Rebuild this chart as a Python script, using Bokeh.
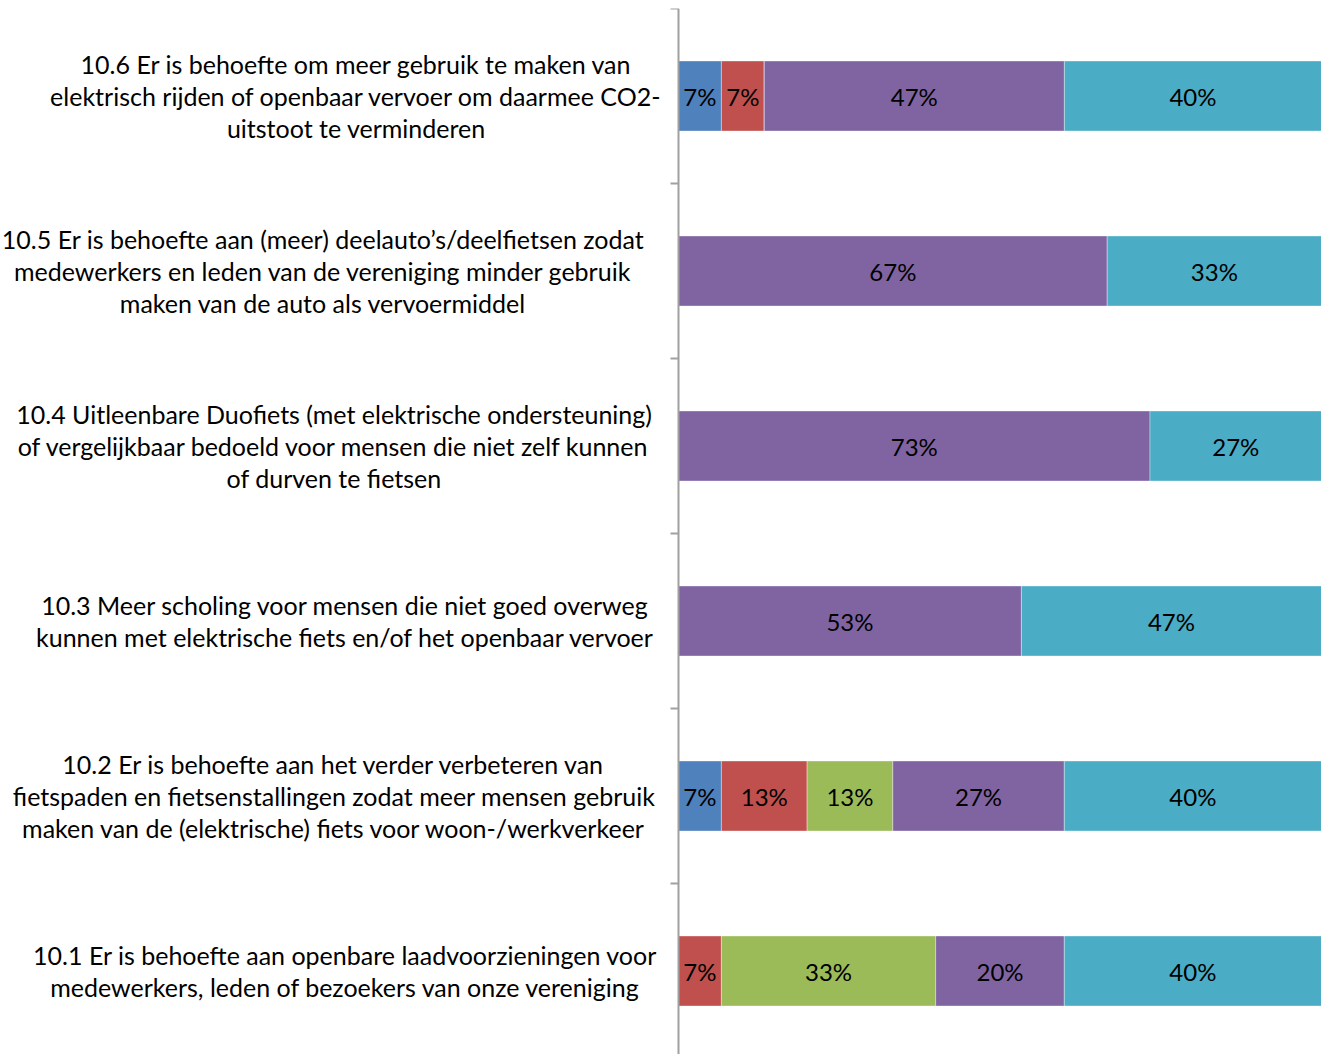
import numpy as np
from bokeh.plotting import figure
from bokeh.models import Range1d, Span
from bokeh.core.properties import value
from bokeh.embed import file_html
from bokeh.resources import INLINE

# Categories, top to bottom as shown
categories = [
    "10.6 Er is behoefte om meer gebruik te maken van\nelektrisch rijden of openbaar vervoer om daarmee CO2-\nuitstoot te verminderen",
    "10.5 Er is behoefte aan (meer) deelauto\u2019s/deelfietsen zodat\nmedewerkers en leden van de vereniging minder gebruik\nmaken van de auto als vervoermiddel",
    "10.4 Uitleenbare Duofiets (met elektrische ondersteuning)\nof vergelijkbaar bedoeld voor mensen die niet zelf kunnen\nof durven te fietsen",
    "10.3 Meer scholing voor mensen die niet goed overweg\nkunnen met elektrische fiets en/of het openbaar vervoer",
    "10.2 Er is behoefte aan het verder verbeteren van\nfietspaden en fietsenstallingen zodat meer mensen gebruik\nmaken van de (elektrische) fiets voor woon-/werkverkeer",
    "10.1 Er is behoefte aan openbare laadvoorzieningen voor\nmedewerkers, leden of bezoekers van onze vereniging",
]

series_names = ["Reeks 1", "Reeks 2", "Reeks 3", "Reeks 4", "Reeks 5"]
series_1 = [6.67, 0.0, 0.0, 0.0, 6.67, 0.0]
series_2 = [6.67, 0.0, 0.0, 0.0, 13.33, 6.67]
series_3 = [0.0, 0.0, 0.0, 0.0, 13.33, 33.33]
series_4 = [46.67, 66.67, 73.33, 53.33, 26.67, 20.0]
series_5 = [40.0, 33.33, 26.67, 46.67, 40.0, 40.0]
colors = ["#4F81BD", "#C0504D", "#9BBB59", "#8064A2", "#4BACC6"]

all_series = [series_1, series_2, series_3, series_4, series_5]
n = len(categories)
ypos = np.array([n - i - 0.5 for i in range(n)])

W, H = 1321, 1054
TOP = 8
unit_px = 6.43            # pixels per percent
cat_px = 175.0            # pixels per category
x_start = -678.0 / unit_px
x_end = x_start + W / unit_px
y_end = float(n)
y_start = y_end - (H - TOP) / cat_px

p = figure(width=W, height=H, output_backend="svg", toolbar_location=None,
           x_range=Range1d(x_start, x_end), y_range=Range1d(y_start, y_end),
           min_border=0, min_border_top=TOP, outline_line_color=None)
p.xaxis.visible = False
p.yaxis.visible = False
p.xgrid.visible = False
p.ygrid.visible = False
p.background_fill_color = "white"
p.border_fill_color = "white"

font = value("Lato")
left = np.zeros(n)
for vals, col in zip(all_series, colors):
    vals = np.array(vals)
    right = left + vals
    p.hbar(y=ypos, left=left, right=right, height=0.4, fill_color=col,
           line_color="white", line_width=0.6, line_alpha=0.6)
    mask = vals > 0
    mids = (left + right) / 2
    labels = [f"{int(round(v))}%" for v in vals[mask]]
    p.text(x=mids[mask], y=ypos[mask], text=labels, text_font=font,
           text_font_size="24px", text_align="center", text_baseline="middle",
           text_color="black")
    left = right

# Category axis line and boundary ticks
p.add_layout(Span(location=0, dimension="height", line_color="#A0A0A0", line_width=2))
bounds = np.arange(1, n + 1)
p.segment(x0=np.zeros(n), y0=bounds, x1=np.full(n, -8 / unit_px), y1=bounds,
          line_color="#A0A0A0", line_width=2)

# Category labels: text block right-anchored near the axis, lines centred in block
char_px = 11.1
right_edge_px = 28.0
label_x = []
for c in categories:
    longest = max(len(line) for line in c.split("\n"))
    label_x.append(-(right_edge_px + longest * char_px / 2) / unit_px)
p.text(x=label_x, y=ypos, text=categories, text_font=font,
       text_font_size="25px", text_align="center", text_baseline="middle",
       text_line_height=1.08, text_color="black")

open("out.html", "w").write(file_html(p, INLINE))
